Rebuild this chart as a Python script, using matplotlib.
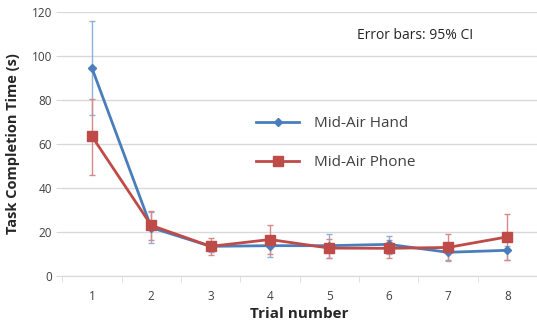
import matplotlib.pyplot as plt
import numpy as np

trials = [1, 2, 3, 4, 5, 6, 7, 8]
hand = [94.5, 22.0, 13.5, 13.8, 13.8, 14.4, 10.8, 11.7]
hand_lo = [73.0, 15.0, 11.0, 8.6, 8.2, 10.0, 7.0, 7.4]
hand_hi = [116.0, 29.0, 15.4, 17.8, 19.3, 18.0, 12.6, 13.8]
phone = [63.5, 23.0, 13.5, 16.6, 12.7, 12.6, 13.0, 17.8]
phone_lo = [46.0, 16.5, 9.6, 10.0, 8.4, 8.4, 7.4, 7.1]
phone_hi = [80.5, 29.5, 17.5, 23.3, 17.0, 16.6, 19.3, 28.0]

blue = '#4A7EBB'
red = '#BE4B48'
plt.rcParams['font.family'] = ['Open Sans', 'DejaVu Sans']

fig = plt.figure(figsize=(5.37, 3.24), dpi=100)
ax = fig.add_axes([0.116, 0.148, 0.884, 0.815])

x = np.array(trials)
h = np.array(hand)
p = np.array(phone)
ax.errorbar(x, h, yerr=[h - np.array(hand_lo), np.array(hand_hi) - h],
            fmt='none', ecolor='#8FB0DA', elinewidth=1, capsize=2, zorder=2)
ax.errorbar(x, p, yerr=[p - np.array(phone_lo), np.array(phone_hi) - p],
            fmt='none', ecolor='#D58A88', elinewidth=1, capsize=2, zorder=2)
ax.plot(x, h, color=blue, lw=2, marker='D', ms=4, label='Mid-Air Hand', zorder=3)
ax.plot(x, p, color=red, lw=2, marker='s', ms=7, label='Mid-Air Phone', zorder=4)

ax.set_xlim(0.5, 8.5)
ax.set_ylim(0, 120)
ax.set_yticks(range(0, 121, 20))
ax.set_xticks(trials)
ax.set_xticks(np.arange(0.5, 8.6, 1), minor=True)
ax.grid(axis='y', color='#D9D9D9', lw=1)
ax.set_axisbelow(True)
for s in ['top', 'right', 'left']:
    ax.spines[s].set_visible(False)
ax.spines['bottom'].set_color('#D9D9D9')
ax.tick_params(axis='x', which='major', length=0, pad=10, labelsize=8.5, labelcolor='#404040')
ax.tick_params(axis='x', which='minor', length=4, color='#D9D9D9', direction='out')
ax.tick_params(axis='y', length=4, color='#D9D9D9', labelsize=8.5, labelcolor='#404040')

ax.set_xlabel('Trial number', fontsize=11, fontweight='bold', color='#262626', labelpad=3)
ax.set_ylabel('Task Completion Time (s)', fontsize=10.5, fontweight='bold', color='#262626', labelpad=8)

ax.text(0.62, 0.91, 'Error bars: 95% CI', transform=ax.transAxes, fontsize=10, color='#262626',
        ha='left', va='center')

leg = ax.legend(loc='upper left', bbox_to_anchor=(0.38, 0.657), frameon=False, fontsize=11,
                handlelength=2.8, labelspacing=1.55, handletextpad=1.0)
for t in leg.get_texts():
    t.set_color('#404040')

fig.savefig('out.png', dpi=100)
